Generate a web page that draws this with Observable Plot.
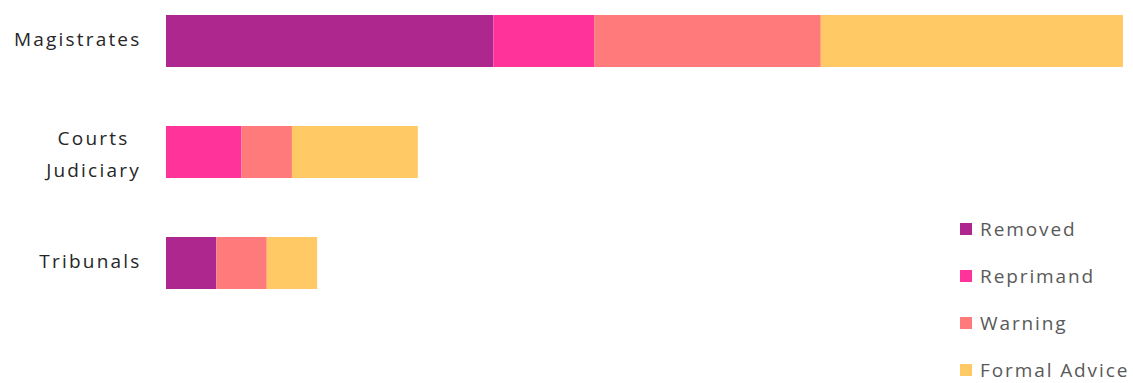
<!DOCTYPE html>
<html>
<head>
<meta charset="utf-8">
<script src="https://cdn.jsdelivr.net/npm/d3@7"></script>
<script src="https://cdn.jsdelivr.net/npm/@observablehq/plot@0.6"></script>
<style>
  html, body { margin: 0; padding: 0; background: #fff; }
  #wrap { position: relative; width: 1133px; height: 383px; font-family: "Open Sans", sans-serif; }
  #legend { position: absolute; left: 960px; top: 219px; }
  .item { display: flex; align-items: center; height: 20px; margin-bottom: 27px; font-size: 19px; line-height: 20px; color: #595959; letter-spacing: 1.9px; white-space: nowrap; }
  .item:last-child { margin-bottom: 0; }
  .sw { width: 12px; height: 12px; margin-right: 8px; flex: none; }
</style>
</head>
<body>
<div id="wrap"></div>
<script>
const categories = ["Magistrates", "Courts Judiciary", "Tribunals"];
const categoryLabels = ["Magistrates", "Courts\nJudiciary", "Tribunals"];
const outcomes = ["Removed", "Reprimand", "Warning", "Formal Advice"];
const colors = ["#AD278E", "#FF3399", "#FF7B7B", "#FFCA66"];
const removed = [13, 0, 2];
const reprimand = [4, 3, 0];
const warning = [9, 2, 2];
const formalAdvice = [12, 5, 2];

const series = [removed, reprimand, warning, formalAdvice];
const rows = [];
categories.forEach((c, i) => {
  outcomes.forEach((o, j) => {
    if (series[j][i] > 0) rows.push({category: c, outcome: o, value: series[j][i]});
  });
});

const labelFor = new Map(categories.map((c, i) => [c, categoryLabels[i]]));
const singleLine = categories.filter(c => !labelFor.get(c).includes("\n"));
const multiLine = categories.filter(c => labelFor.get(c).includes("\n"));

const labelStyle = {fontSize: 19, fill: "#262626", letterSpacing: 2.2};

const chart = Plot.plot({
  width: 1133,
  height: 383,
  marginLeft: 166,
  marginRight: 10,
  marginTop: 14,
  marginBottom: 93,
  style: {fontFamily: "Open Sans, sans-serif", background: "white"},
  x: {domain: [0, 38], axis: null},
  y: {domain: categories, paddingInner: 0.53, paddingOuter: 0, axis: null},
  color: {domain: outcomes, range: colors},
  marks: [
    Plot.barX(rows, {x: "value", y: "category", fill: "outcome", inset: 0}),
    Plot.text(singleLine, {
      y: d => d,
      text: d => labelFor.get(d),
      frameAnchor: "left",
      dx: -25,
      dy: -2,
      textAnchor: "end",
      fontSize: labelStyle.fontSize,
      fill: labelStyle.fill
    }),
    Plot.text(multiLine, {
      y: d => d,
      text: d => labelFor.get(d),
      frameAnchor: "left",
      dx: -73,
      dy: -2,
      textAnchor: "middle",
      lineHeight: 1.68,
      fontSize: labelStyle.fontSize,
      fill: labelStyle.fill
    })
  ]
});
chart.querySelectorAll("text").forEach(t => t.setAttribute("letter-spacing", labelStyle.letterSpacing));
document.getElementById("wrap").appendChild(chart);

const legend = document.createElement("div");
legend.id = "legend";
outcomes.forEach((o, i) => {
  const item = document.createElement("div");
  item.className = "item";
  const sw = document.createElement("span");
  sw.className = "sw";
  sw.style.background = colors[i];
  const t = document.createElement("span");
  t.textContent = o;
  item.appendChild(sw);
  item.appendChild(t);
  legend.appendChild(item);
});
document.getElementById("wrap").appendChild(legend);
</script>
</body>
</html>
